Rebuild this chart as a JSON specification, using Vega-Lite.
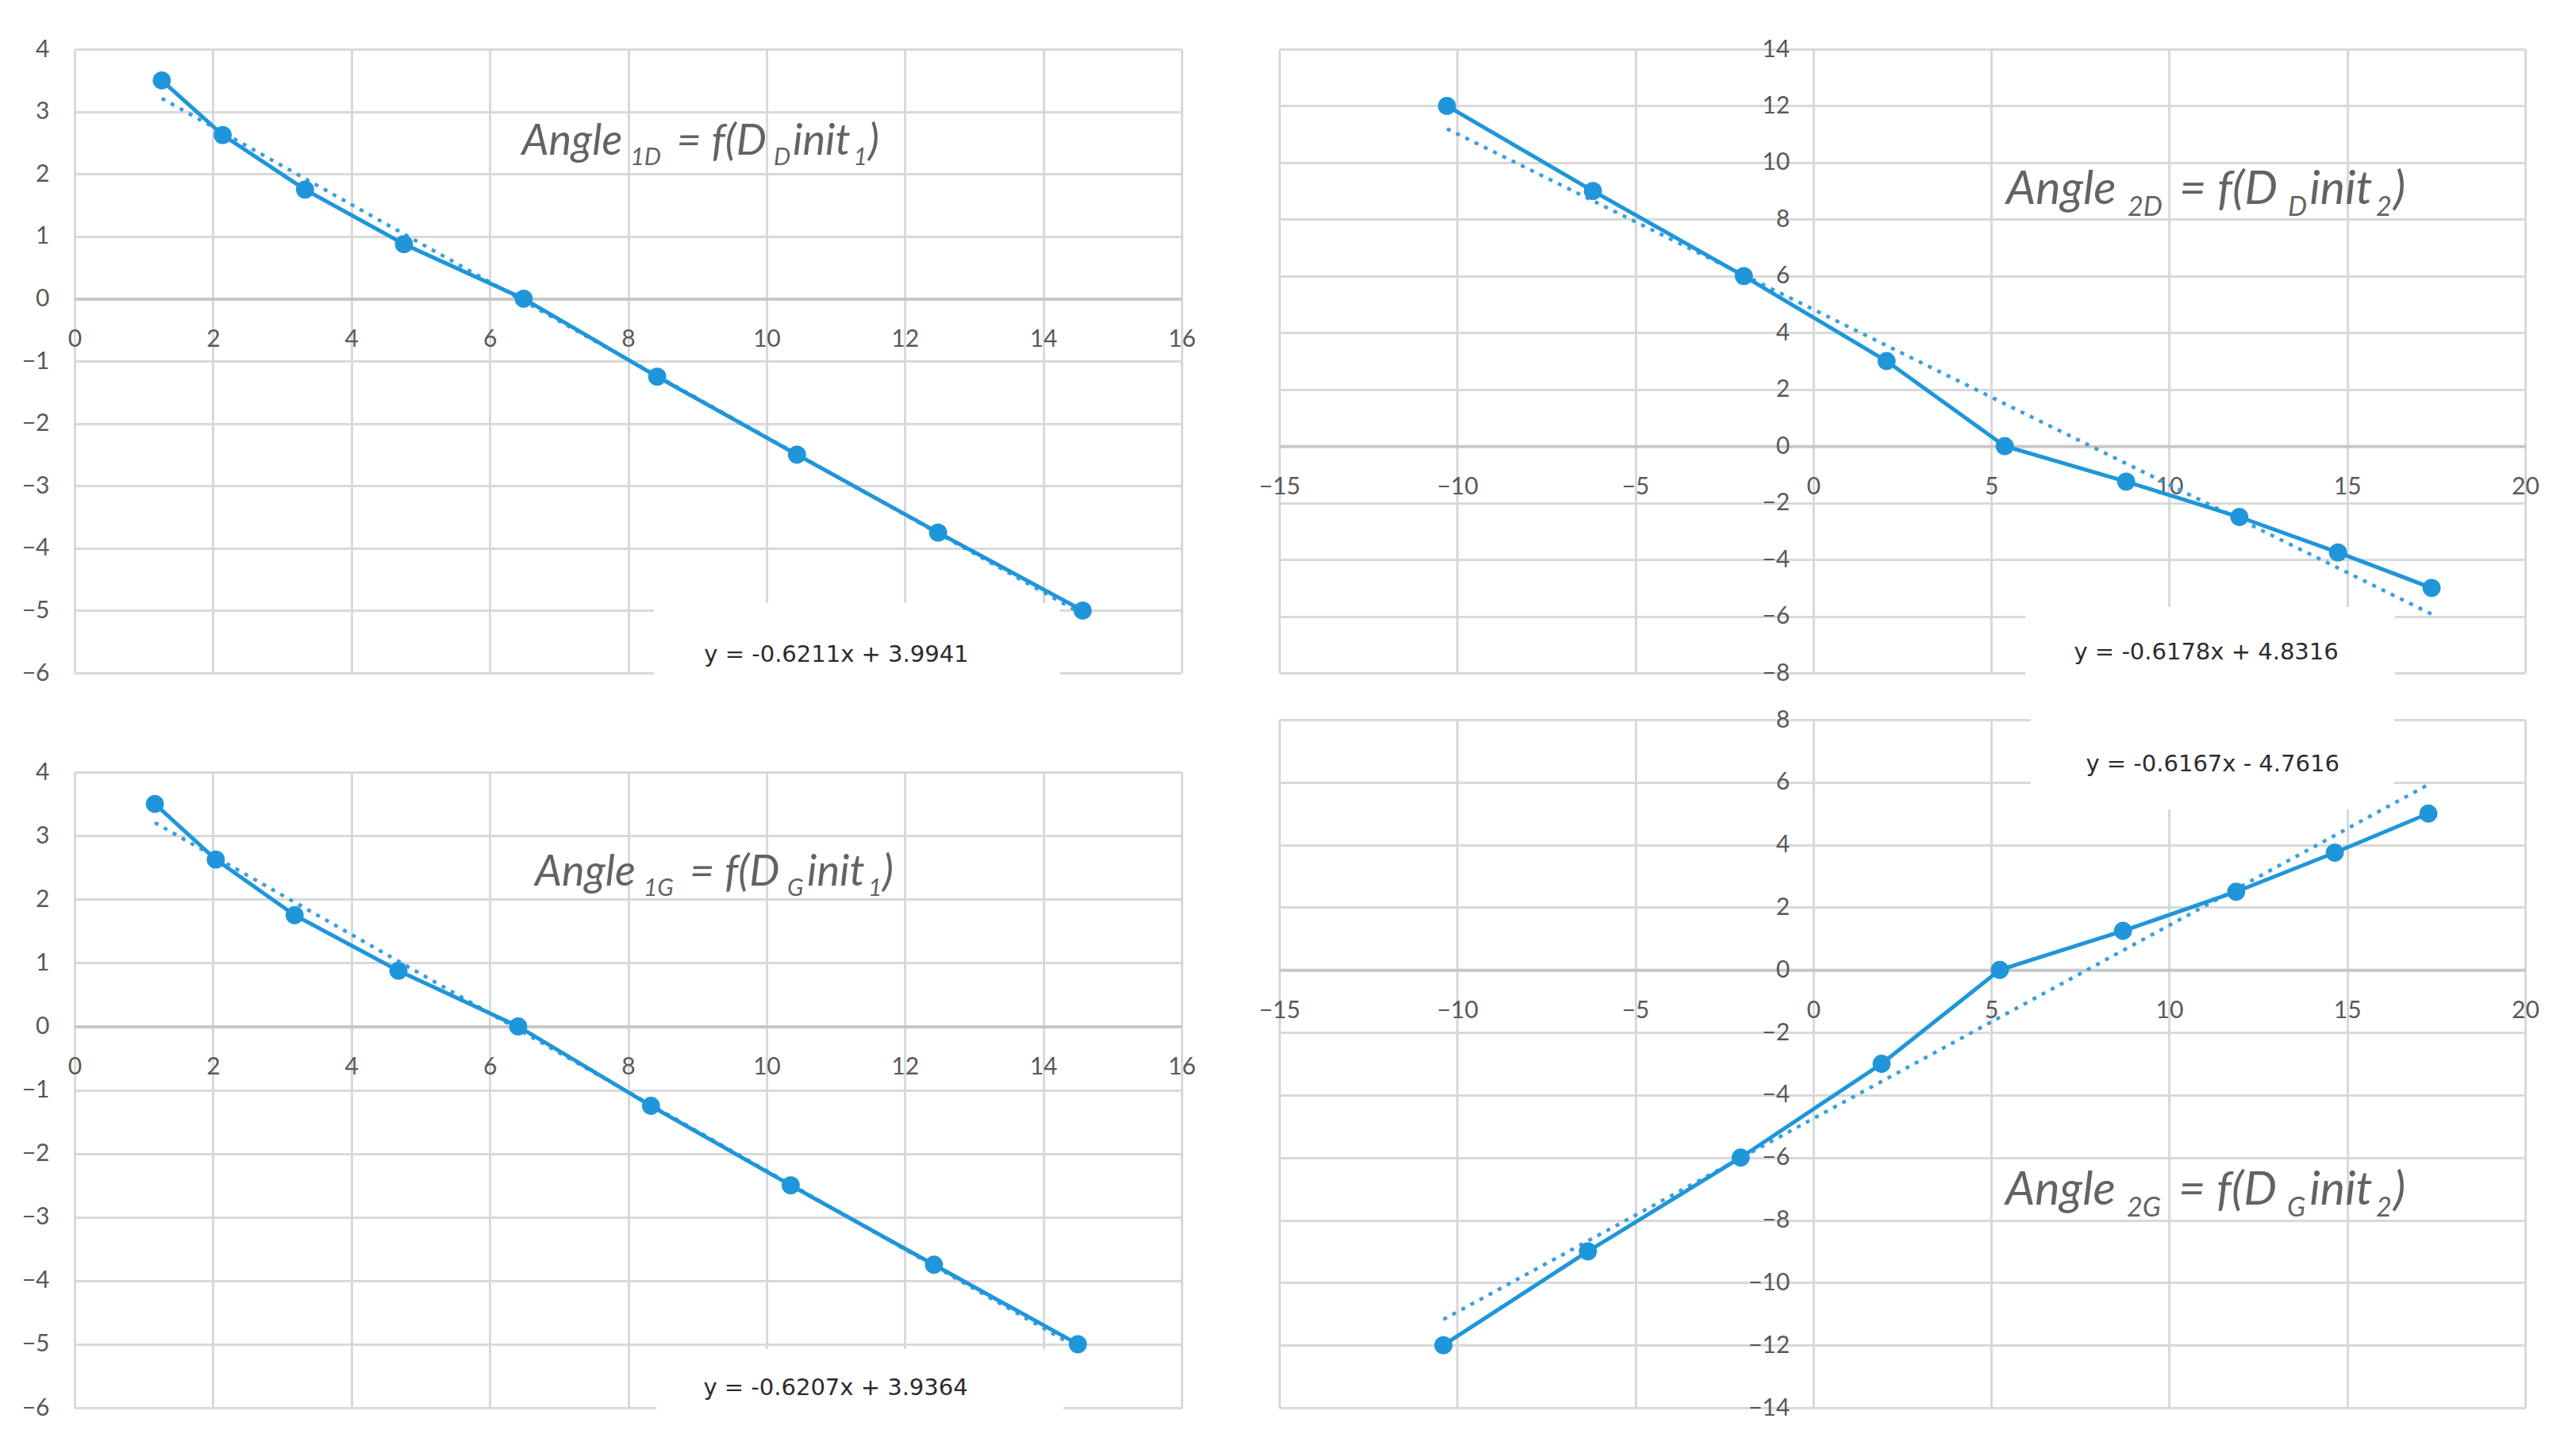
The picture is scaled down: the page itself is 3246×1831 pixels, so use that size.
{
  "$schema": "https://vega.github.io/schema/vega-lite/v6.json",
  "background": "white",
  "padding": {"left": 27, "top": 47, "right": 5, "bottom": 5},
  "config": {
    "view": {"stroke": null},
    "axis": {
      "labelFont": "Lato", "labelFontSize": 30, "labelColor": "#595959",
      "ticks": false, "gridColor": "#D9D9D9", "gridWidth": 3,
      "labelFlush": false, "labelOverlap": false, "labelBound": false,
      "domainColor": "#C8C8C8", "domainWidth": 4
    }
  },
  "datasets": {
    "p1": [
      {"x": 1.26, "y": 3.5}, {"x": 2.14, "y": 2.625}, {"x": 3.33, "y": 1.75},
      {"x": 4.76, "y": 0.875}, {"x": 6.49, "y": 0}, {"x": 8.42, "y": -1.25},
      {"x": 10.44, "y": -2.5}, {"x": 12.48, "y": -3.75}, {"x": 14.57, "y": -5}
    ],
    "p2": [
      {"x": -10.29, "y": 12}, {"x": -6.19, "y": 9}, {"x": -1.95, "y": 6},
      {"x": 2.06, "y": 3}, {"x": 5.38, "y": 0}, {"x": 8.79, "y": -1.25},
      {"x": 11.97, "y": -2.5}, {"x": 14.74, "y": -3.75}, {"x": 17.37, "y": -5}
    ],
    "p3": [
      {"x": 1.16, "y": 3.5}, {"x": 2.04, "y": 2.625}, {"x": 3.18, "y": 1.75},
      {"x": 4.68, "y": 0.875}, {"x": 6.41, "y": 0}, {"x": 8.33, "y": -1.25},
      {"x": 10.35, "y": -2.5}, {"x": 12.42, "y": -3.75}, {"x": 14.5, "y": -5}
    ],
    "p4": [
      {"x": -10.39, "y": -12}, {"x": -6.33, "y": -9}, {"x": -2.04, "y": -6},
      {"x": 1.92, "y": -3}, {"x": 5.24, "y": 0}, {"x": 8.7, "y": 1.25},
      {"x": 11.88, "y": 2.5}, {"x": 14.65, "y": 3.75}, {"x": 17.28, "y": 5}
    ],
    "box1": [{"x": 8.37, "x2": 14.24, "y": -4.88, "y2": -6.1}],
    "box2": [{"x": 5.96, "x2": 16.34, "y": -5.68, "y2": -8.34}],
    "box3": [{"x": 8.41, "x2": 14.29, "y": -5.08, "y2": -6.1}],
    "box4": [{"x": 6.11, "x2": 16.32, "y": 8.3, "y2": 5.13}],
    "eq1": [{"t": "y = -0.6211x + 3.9941", "x": 11.01, "y": -5.71}],
    "eq2": [{"t": "y = -0.6178x + 4.8316", "x": 11.04, "y": -7.27}],
    "eq3": [{"t": "y = -0.6207x + 3.9364", "x": 11.0, "y": -5.69}],
    "eq4": [{"t": "y = -0.6167x - 4.7616", "x": 11.22, "y": 6.58}],
    "t1": [
      {"t": "Angle", "k": "m", "x": 6.462, "y": 2.308},
      {"t": "1D", "k": "s", "x": 8.034, "y": 2.142},
      {"t": "= f(D", "k": "m", "x": 8.7, "y": 2.308},
      {"t": "D", "k": "s", "x": 10.104, "y": 2.142},
      {"t": "init", "k": "m", "x": 10.38, "y": 2.308},
      {"t": "1", "k": "s", "x": 11.258, "y": 2.142},
      {"t": ")", "k": "m", "x": 11.469, "y": 2.308}
    ],
    "t3": [
      {"t": "Angle", "k": "m", "x": 6.652, "y": 2.215},
      {"t": "1G", "k": "s", "x": 8.223, "y": 2.052},
      {"t": "= f(D", "k": "m", "x": 8.889, "y": 2.215},
      {"t": "G", "k": "s", "x": 10.299, "y": 2.052},
      {"t": "init", "k": "m", "x": 10.586, "y": 2.215},
      {"t": "1", "k": "s", "x": 11.469, "y": 2.052},
      {"t": ")", "k": "m", "x": 11.676, "y": 2.215}
    ],
    "t2": [
      {"t": "Angle", "k": "m", "x": 5.42, "y": 8.542},
      {"t": "2D", "k": "s", "x": 8.83, "y": 8.122},
      {"t": "= f(D", "k": "m", "x": 10.28, "y": 8.542},
      {"t": "D", "k": "s", "x": 13.334, "y": 8.122},
      {"t": "init", "k": "m", "x": 13.94, "y": 8.542},
      {"t": "2", "k": "s", "x": 15.81, "y": 8.122},
      {"t": ")", "k": "m", "x": 16.3, "y": 8.542}
    ],
    "t4": [
      {"t": "Angle", "k": "m", "x": 5.4, "y": -7.5},
      {"t": "2G", "k": "s", "x": 8.81, "y": -7.88},
      {"t": "= f(D", "k": "m", "x": 10.26, "y": -7.5},
      {"t": "G", "k": "s", "x": 13.31, "y": -7.88},
      {"t": "init", "k": "m", "x": 13.94, "y": -7.5},
      {"t": "2", "k": "s", "x": 15.81, "y": -7.88},
      {"t": ")", "k": "m", "x": 16.3, "y": -7.5}
    ]
  },
  "spacing": 78,
  "hconcat": [
    {
      "spacing": 95,
      "vconcat": [
        {
          "width": 1395, "height": 786,
          "encoding": {
            "x": {"field": "x", "type": "quantitative", "title": null,
                  "scale": {"domain": [0, 16], "nice": false, "zero": false},
                  "axis": {"values": [0, 2, 4, 6, 8, 10, 12, 14, 16], "offset": -471.6, "labelPadding": 36, "grid": true, "domain": true}},
            "y": {"field": "y", "type": "quantitative", "title": null,
                  "scale": {"domain": [-6, 4], "nice": false, "zero": false},
                  "axis": {"values": [-6, -5, -4, -3, -2, -1, 0, 1, 2, 3, 4], "labelPadding": 32, "grid": true, "domain": false}}
          },
          "layer": [
            {"data": {"name": "box1"}, "mark": {"type": "rect", "fill": "white"}, "encoding": {"x2": {"field": "x2"}, "y2": {"field": "y2"}}},
            {"data": {"name": "p1"}, "transform": [{"regression": "y", "on": "x"}], "mark": {"type": "line", "color": "#3A9FE0", "strokeWidth": 4.5, "strokeDash": [5, 8]}},
            {"data": {"name": "p1"}, "mark": {"type": "line", "color": "#1F96DA", "strokeWidth": 5}},
            {"data": {"name": "p1"}, "mark": {"type": "point", "filled": true, "color": "#1F96DA", "size": 520, "opacity": 1}},
            {"data": {"name": "eq1"}, "mark": {"type": "text", "font": "DejaVu Sans", "fontSize": 29, "color": "#2B2B2B", "align": "center", "baseline": "middle"}, "encoding": {"text": {"field": "t"}}},
            {"data": {"name": "t1"}, "transform": [{"filter": "datum.k == 'm'"}], "mark": {"type": "text", "font": "Lato", "fontStyle": "italic", "fontSize": 54, "color": "#636363", "align": "left", "baseline": "alphabetic"}, "encoding": {"text": {"field": "t"}}},
            {"data": {"name": "t1"}, "transform": [{"filter": "datum.k == 's'"}], "mark": {"type": "text", "font": "Lato", "fontStyle": "italic", "fontSize": 30, "color": "#636363", "align": "left", "baseline": "alphabetic"}, "encoding": {"text": {"field": "t"}}}
          ]
        },
        {
          "width": 1395, "height": 801,
          "encoding": {
            "x": {"field": "x", "type": "quantitative", "title": null,
                  "scale": {"domain": [0, 16], "nice": false, "zero": false},
                  "axis": {"values": [0, 2, 4, 6, 8, 10, 12, 14, 16], "offset": -480.6, "labelPadding": 36, "grid": true, "domain": true}},
            "y": {"field": "y", "type": "quantitative", "title": null,
                  "scale": {"domain": [-6, 4], "nice": false, "zero": false},
                  "axis": {"values": [-6, -5, -4, -3, -2, -1, 0, 1, 2, 3, 4], "labelPadding": 32, "grid": true, "domain": false}}
          },
          "layer": [
            {"data": {"name": "box3"}, "mark": {"type": "rect", "fill": "white"}, "encoding": {"x2": {"field": "x2"}, "y2": {"field": "y2"}}},
            {"data": {"name": "p3"}, "transform": [{"regression": "y", "on": "x"}], "mark": {"type": "line", "color": "#3A9FE0", "strokeWidth": 4.5, "strokeDash": [5, 8]}},
            {"data": {"name": "p3"}, "mark": {"type": "line", "color": "#1F96DA", "strokeWidth": 5}},
            {"data": {"name": "p3"}, "mark": {"type": "point", "filled": true, "color": "#1F96DA", "size": 520, "opacity": 1}},
            {"data": {"name": "eq3"}, "mark": {"type": "text", "font": "DejaVu Sans", "fontSize": 29, "color": "#2B2B2B", "align": "center", "baseline": "middle"}, "encoding": {"text": {"field": "t"}}},
            {"data": {"name": "t3"}, "transform": [{"filter": "datum.k == 'm'"}], "mark": {"type": "text", "font": "Lato", "fontStyle": "italic", "fontSize": 54, "color": "#636363", "align": "left", "baseline": "alphabetic"}, "encoding": {"text": {"field": "t"}}},
            {"data": {"name": "t3"}, "transform": [{"filter": "datum.k == 's'"}], "mark": {"type": "text", "font": "Lato", "fontStyle": "italic", "fontSize": 30, "color": "#636363", "align": "left", "baseline": "alphabetic"}, "encoding": {"text": {"field": "t"}}}
          ]
        }
      ]
    },
    {
      "spacing": 29,
      "vconcat": [
        {
          "width": 1570, "height": 786,
          "encoding": {
            "x": {"field": "x", "type": "quantitative", "title": null,
                  "scale": {"domain": [-15, 20], "nice": false, "zero": false},
                  "axis": {"values": [-15, -10, -5, 0, 5, 10, 15, 20], "offset": -285.8, "labelPadding": 36, "grid": true, "domain": true}},
            "y": {"field": "y", "type": "quantitative", "title": null,
                  "scale": {"domain": [-8, 14], "nice": false, "zero": false},
                  "axis": {"values": [-8, -6, -4, -2, 0, 2, 4, 6, 8, 10, 12, 14], "offset": -672.9, "labelPadding": 30, "grid": true, "domain": false}}
          },
          "layer": [
            {"data": {"name": "box2"}, "mark": {"type": "rect", "fill": "white"}, "encoding": {"x2": {"field": "x2"}, "y2": {"field": "y2"}}},
            {"data": {"name": "p2"}, "transform": [{"regression": "y", "on": "x"}], "mark": {"type": "line", "color": "#3A9FE0", "strokeWidth": 4.5, "strokeDash": [5, 8]}},
            {"data": {"name": "p2"}, "mark": {"type": "line", "color": "#1F96DA", "strokeWidth": 5}},
            {"data": {"name": "p2"}, "mark": {"type": "point", "filled": true, "color": "#1F96DA", "size": 520, "opacity": 1}},
            {"data": {"name": "eq2"}, "mark": {"type": "text", "font": "DejaVu Sans", "fontSize": 29, "color": "#2B2B2B", "align": "center", "baseline": "middle"}, "encoding": {"text": {"field": "t"}}},
            {"data": {"name": "t2"}, "transform": [{"filter": "datum.k == 'm'"}], "mark": {"type": "text", "font": "Lato", "fontStyle": "italic", "fontSize": 59, "color": "#636363", "align": "left", "baseline": "alphabetic"}, "encoding": {"text": {"field": "t"}}},
            {"data": {"name": "t2"}, "transform": [{"filter": "datum.k == 's'"}], "mark": {"type": "text", "font": "Lato", "fontStyle": "italic", "fontSize": 34, "color": "#636363", "align": "left", "baseline": "alphabetic"}, "encoding": {"text": {"field": "t"}}}
          ]
        },
        {
          "width": 1570, "height": 867,
          "encoding": {
            "x": {"field": "x", "type": "quantitative", "title": null,
                  "scale": {"domain": [-15, 20], "nice": false, "zero": false},
                  "axis": {"values": [-15, -10, -5, 0, 5, 10, 15, 20], "offset": -551.7, "labelPadding": 36, "grid": true, "domain": true}},
            "y": {"field": "y", "type": "quantitative", "title": null,
                  "scale": {"domain": [-14, 8], "nice": false, "zero": false},
                  "axis": {"values": [-14, -12, -10, -8, -6, -4, -2, 0, 2, 4, 6, 8], "offset": -672.9, "labelPadding": 30, "grid": true, "domain": false}}
          },
          "layer": [
            {"data": {"name": "box4"}, "mark": {"type": "rect", "fill": "white"}, "encoding": {"x2": {"field": "x2"}, "y2": {"field": "y2"}}},
            {"data": {"name": "p4"}, "transform": [{"regression": "y", "on": "x"}], "mark": {"type": "line", "color": "#3A9FE0", "strokeWidth": 4.5, "strokeDash": [5, 8]}},
            {"data": {"name": "p4"}, "mark": {"type": "line", "color": "#1F96DA", "strokeWidth": 5}},
            {"data": {"name": "p4"}, "mark": {"type": "point", "filled": true, "color": "#1F96DA", "size": 520, "opacity": 1}},
            {"data": {"name": "eq4"}, "mark": {"type": "text", "font": "DejaVu Sans", "fontSize": 29, "color": "#2B2B2B", "align": "center", "baseline": "middle"}, "encoding": {"text": {"field": "t"}}},
            {"data": {"name": "t4"}, "transform": [{"filter": "datum.k == 'm'"}], "mark": {"type": "text", "font": "Lato", "fontStyle": "italic", "fontSize": 59, "color": "#636363", "align": "left", "baseline": "alphabetic"}, "encoding": {"text": {"field": "t"}}},
            {"data": {"name": "t4"}, "transform": [{"filter": "datum.k == 's'"}], "mark": {"type": "text", "font": "Lato", "fontStyle": "italic", "fontSize": 34, "color": "#636363", "align": "left", "baseline": "alphabetic"}, "encoding": {"text": {"field": "t"}}}
          ]
        }
      ]
    }
  ]
}
